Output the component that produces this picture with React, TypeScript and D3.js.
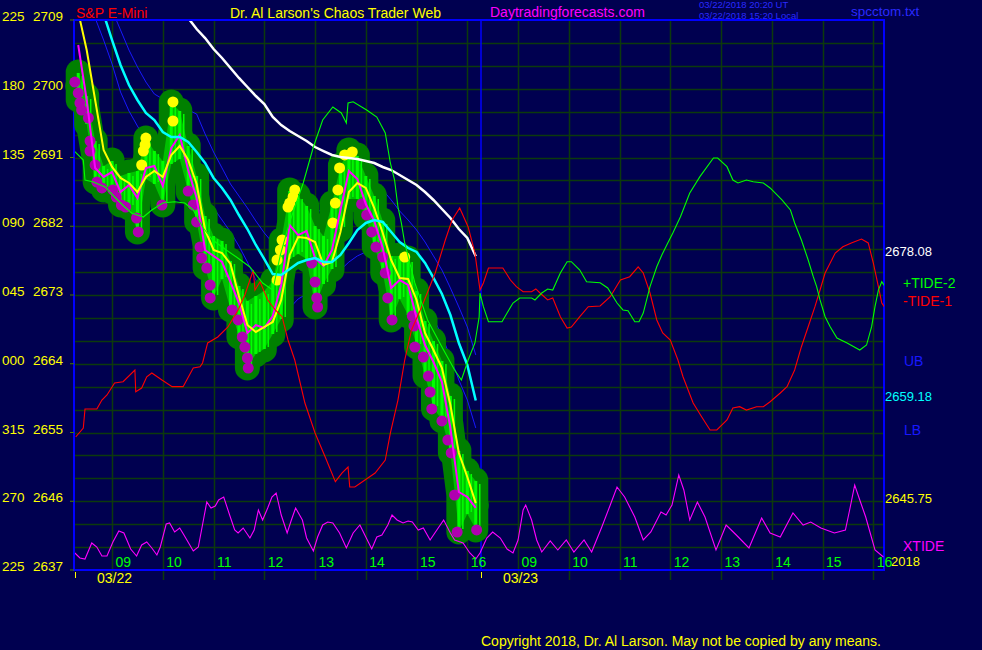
import React from "react";
import * as d3 from "d3";

const WIDTH = 982;
const HEIGHT = 650;
const FONT = "'Liberation Sans', Arial, Helvetica, sans-serif";

// ---- axis labels ----
const priceTicks = [2709, 2700, 2691, 2682, 2673, 2664, 2655, 2646, 2637];
const angleLabels = ["225", "180", "135", "090", "045", "000", "315", "270", "225"];
const hourLabels = ["09", "10", "11", "12", "13", "14", "15", "16"];
const dayLabels = ["03/22", "03/23"];

// ---- 10-minute price bars, minutes since 08:15 on 03/22 ----
const barTimes = [5, 15, 25, 35, 45, 55, 65, 75, 85, 95, 105, 115, 125, 135, 145, 155, 165, 175, 185, 195, 205, 215, 225, 235, 245, 255, 265, 275, 285, 295, 305, 315, 325, 335, 345, 355, 365, 375, 385, 395, 405, 415, 425, 435, 445, 455, 465, 475];
const barHigh = [2702.19, 2699.18, 2693.29, 2690.02, 2690.67, 2688.71, 2689.1, 2689.36, 2693.55, 2691.98, 2690.67, 2698.27, 2697.22, 2692.64, 2688.71, 2683.47, 2680.85, 2680.2, 2677.58, 2674.31, 2672.35, 2673.0, 2673.65, 2674.96, 2680.2, 2686.75, 2686.09, 2684.78, 2682.16, 2680.85, 2685.04, 2690.02, 2691.98, 2691.33, 2688.71, 2686.09, 2682.82, 2678.24, 2678.24, 2677.84, 2673.65, 2669.73, 2667.11, 2664.49, 2659.91, 2652.71, 2650.09, 2648.78];
const barLow = [2698.53, 2695.25, 2687.79, 2686.75, 2686.48, 2684.78, 2684.39, 2681.25, 2688.05, 2687.4, 2684.78, 2690.02, 2690.67, 2686.48, 2682.56, 2676.53, 2672.61, 2674.96, 2671.04, 2667.5, 2663.44, 2665.15, 2665.8, 2667.76, 2669.73, 2677.58, 2678.24, 2677.58, 2671.43, 2674.31, 2676.27, 2681.51, 2685.44, 2685.44, 2683.08, 2679.28, 2675.88, 2669.73, 2672.35, 2670.25, 2666.19, 2662.39, 2658.08, 2656.51, 2652.32, 2641.97, 2644.2, 2642.24];

// ---- averages & bands on the bar times (null = not drawn) ----
const fastLine = [2705.73, 2698.53, 2689.63, 2688.45, 2689.1, 2686.48, 2687.4, 2685.7, 2689.63, 2689.89, 2687.27, 2692.24, 2693.95, 2689.36, 2685.7, 2678.89, 2678.11, 2677.32, 2674.7, 2671.95, 2668.03, 2669.07, 2668.68, 2670.25, 2674.31, 2682.16, 2680.85, 2681.38, 2677.84, 2676.8, 2678.89, 2684.13, 2689.23, 2688.19, 2684.91, 2682.69, 2679.15, 2673.92, 2674.96, 2674.31, 2669.99, 2666.45, 2664.23, 2661.61, 2655.59, 2647.21, 2646.56, 2645.12];
const yellowLine = [2710.05, 2705.07, 2698.53, 2691.98, 2689.76, 2688.32, 2687.66, 2686.48, 2688.45, 2689.23, 2688.45, 2691.33, 2692.51, 2690.67, 2687.53, 2681.51, 2678.89, 2678.5, 2677.06, 2672.87, 2669.07, 2668.16, 2668.81, 2669.47, 2672.35, 2678.24, 2680.59, 2680.46, 2679.94, 2676.93, 2677.32, 2681.25, 2686.48, 2687.66, 2687.01, 2684.39, 2681.12, 2677.58, 2675.23, 2675.1, 2672.35, 2668.03, 2665.8, 2663.44, 2658.6, 2652.32, 2649.17, 2645.75];
const cyanLine = [2720.78, 2716.85, 2713.19, 2709.79, 2706.38, 2703.11, 2700.49, 2698.53, 2696.83, 2695.91, 2694.34, 2693.68, 2693.68, 2693.03, 2691.72, 2690.28, 2688.32, 2687.01, 2685.44, 2683.47, 2681.64, 2679.55, 2677.71, 2675.75, 2675.62, 2676.4, 2677.19, 2677.58, 2677.84, 2677.32, 2677.32, 2678.24, 2679.81, 2681.51, 2682.43, 2682.82, 2682.56, 2681.25, 2679.94, 2679.15, 2678.63, 2677.19, 2675.23, 2673.13, 2670.38, 2666.72, 2663.84, 2659.18];
const whiteLine = [null, null, null, null, null, null, null, null, null, null, null, null, 2710.31, 2709.26, 2707.82, 2706.64, 2705.2, 2704.03, 2702.72, 2701.41, 2700.23, 2699.05, 2698.0, 2696.3, 2695.25, 2694.47, 2693.81, 2693.16, 2692.37, 2691.85, 2691.33, 2691.07, 2690.93, 2690.8, 2690.54, 2690.28, 2689.76, 2689.36, 2688.71, 2688.05, 2687.4, 2686.48, 2685.44, 2684.26, 2683.08, 2681.64, 2680.46, 2678.08];
const upperBand = [null, null, null, null, 2710.31, 2707.69, 2705.07, 2702.85, 2700.88, 2699.31, 2698.66, 2698.27, 2697.61, 2697.22, 2696.69, 2694.08, 2691.72, 2689.63, 2687.53, 2685.96, 2684.39, 2682.69, 2681.12, 2679.81, 2679.41, 2680.2, 2681.25, 2682.29, 2683.47, 2684.52, 2685.44, 2686.09, 2686.61, 2686.88, 2687.01, 2687.14, 2686.75, 2685.44, 2684.0, 2682.82, 2681.51, 2679.94, 2678.11, 2676.27, 2673.92, 2671.43, 2668.81, 2665.15];
const lowerBand = [null, 2712.27, 2709.26, 2706.38, 2703.24, 2699.57, 2697.09, 2695.12, 2693.29, 2691.98, 2690.67, 2689.76, 2689.36, 2688.71, 2687.4, 2685.7, 2684.39, 2682.82, 2681.25, 2679.41, 2677.32, 2674.96, 2673.0, 2671.56, 2671.04, 2671.3, 2672.48, 2673.13, 2673.65, 2674.57, 2675.49, 2676.27, 2677.32, 2678.11, 2678.63, 2678.89, 2678.63, 2677.58, 2676.27, 2674.96, 2673.65, 2671.95, 2669.99, 2667.63, 2664.88, 2661.87, 2659.25, 2655.59];

// ---- swing dots [minute, price] ----
const lowDots = [[1, 2700.88], [5, 2699.44], [7, 2698.13], [9, 2697.22], [17, 2696.17], [19, 2693.16], [19, 2691.85], [25, 2690.02], [27, 2687.79], [33, 2687.01], [46, 2686.75], [50, 2685.83], [56, 2684.78], [61, 2684.52], [74, 2683.08], [76, 2681.25], [104, 2684.78], [135, 2686.61], [141, 2684.78], [145, 2682.56], [149, 2679.28], [151, 2677.84], [157, 2676.53], [161, 2674.31], [161, 2672.61], [187, 2671.04], [194, 2669.73], [199, 2667.5], [202, 2666.19], [205, 2664.75], [206, 2663.44], [281, 2677.19], [285, 2674.7], [287, 2672.61], [288, 2671.43], [340, 2684.91], [346, 2683.47], [352, 2681.25], [357, 2679.28], [365, 2677.97], [368, 2675.88], [371, 2672.61], [376, 2669.73], [400, 2670.25], [402, 2668.94], [403, 2666.19], [413, 2664.88], [419, 2662.39], [421, 2660.3], [423, 2658.08], [435, 2656.51], [442, 2654.02], [446, 2652.32], [450, 2646.82], [453, 2641.97], [476, 2642.24]];
const highDots = [[80, 2690.02], [82, 2691.85], [84, 2692.64], [85, 2693.55], [117, 2698.27], [117, 2695.78], [240, 2674.96], [240, 2677.58], [244, 2678.89], [246, 2680.2], [253, 2684.52], [255, 2685.04], [259, 2685.83], [261, 2686.75], [306, 2682.43], [309, 2685.04], [312, 2686.75], [314, 2689.63], [320, 2691.33], [329, 2691.72], [391, 2677.97]];

// ---- tides [minute, price] ----
const tidePlus2 = [[1, 2691.76], [11, 2690.67], [13, 2688.05], [22, 2687.83], [37, 2687.14], [48, 2685.83], [60, 2684.52], [68, 2683.73], [82, 2683.21], [92, 2684.13], [105, 2685.04], [119, 2685.21], [131, 2685.04], [141, 2684.13], [152, 2681.9], [164, 2680.2], [180, 2678.89], [192, 2677.97], [208, 2676.67], [223, 2674.57], [235, 2673.65], [244, 2678.24], [255, 2682.56], [271, 2687.66], [283, 2692.37], [294, 2695.91], [306, 2697.61], [316, 2696.83], [322, 2695.52], [324, 2698.13], [330, 2698.3], [346, 2697.22], [358, 2696.3], [368, 2694.21], [374, 2690.28], [379, 2688.05], [383, 2684.52], [387, 2682.43], [391, 2679.81], [403, 2674.57], [418, 2669.73], [435, 2666.19], [450, 2663.18], [458, 2661.87], [466, 2664.49], [474, 2666.72], [479, 2670.12], [480, 2673.26], [484, 2671.47], [490, 2669.5], [506, 2669.5], [512, 2670.64], [519, 2671.95], [527, 2672.61], [541, 2672.61], [545, 2672.35], [553, 2673.26], [560, 2673.79], [566, 2673.65], [575, 2675.88], [583, 2677.36], [588, 2677.36], [598, 2676.27], [606, 2674.74], [622, 2674.61], [631, 2673.92], [642, 2671.95], [649, 2671.04], [655, 2670.95], [663, 2669.5], [668, 2669.5], [673, 2670.64], [681, 2674.09], [689, 2676.7], [695, 2678.24], [702, 2679.81], [708, 2681.12], [717, 2683.25], [728, 2686.35], [740, 2688.49], [756, 2690.93], [761, 2690.93], [772, 2689.8], [779, 2688.05], [785, 2687.66], [795, 2688.05], [803, 2687.83], [815, 2687.66], [823, 2687.01], [837, 2685.44], [847, 2684.13], [852, 2682.43], [860, 2680.2], [868, 2677.58], [874, 2675.4], [878, 2674.09], [882, 2672.35], [888, 2670.16], [894, 2668.85], [902, 2667.37], [914, 2666.72], [929, 2665.8], [937, 2666.45], [943, 2668.85], [947, 2671.47], [951, 2673.65], [955, 2674.74], [959, 2674.09]];
const tideMinus1 = [[2, 2654.41], [11, 2655.59], [13, 2658.08], [27, 2658.08], [33, 2659.25], [39, 2659.91], [48, 2661.48], [58, 2661.65], [72, 2663.18], [73, 2660.34], [80, 2660.82], [86, 2662.3], [92, 2662.79], [104, 2661.87], [116, 2661.0], [129, 2661.0], [141, 2663.44], [149, 2663.61], [152, 2664.1], [158, 2666.72], [170, 2667.5], [182, 2668.81], [194, 2671.04], [202, 2673.0], [212, 2676.27], [214, 2673.65], [220, 2674.74], [229, 2672.35], [238, 2671.04], [246, 2670.16], [253, 2667.11], [261, 2664.49], [273, 2658.86], [285, 2654.93], [297, 2651.79], [309, 2648.56], [317, 2649.7], [324, 2650.48], [326, 2647.87], [332, 2647.87], [344, 2648.78], [356, 2649.7], [368, 2651.4], [374, 2654.93], [383, 2659.25], [391, 2664.49], [399, 2668.42], [411, 2671.43], [427, 2675.88], [439, 2680.2], [447, 2682.82], [456, 2684.39], [466, 2681.9], [474, 2678.5], [480, 2673.65], [484, 2674.57], [490, 2676.53], [507, 2676.53], [516, 2674.96], [523, 2674.09], [531, 2673.43], [541, 2673.43], [546, 2673.79], [551, 2673.26], [560, 2672.35], [566, 2672.61], [575, 2670.16], [583, 2668.68], [588, 2668.81], [598, 2670.16], [608, 2671.47], [622, 2671.56], [634, 2672.78], [646, 2674.96], [657, 2675.4], [667, 2676.67], [673, 2675.88], [681, 2673.26], [689, 2669.73], [696, 2668.03], [705, 2667.11], [714, 2664.49], [720, 2662.3], [732, 2658.86], [742, 2657.07], [752, 2655.33], [760, 2655.33], [772, 2656.64], [779, 2658.21], [787, 2658.38], [795, 2657.94], [807, 2658.38], [815, 2658.38], [823, 2659.03], [835, 2660.17], [843, 2661.0], [852, 2663.18], [860, 2666.23], [868, 2668.85], [876, 2671.47], [882, 2673.65], [888, 2675.88], [894, 2677.19], [900, 2678.5], [909, 2679.32], [919, 2679.81], [931, 2680.33], [939, 2679.81], [945, 2677.19], [951, 2674.09], [955, 2671.95], [959, 2671.3]];

// ---- XTIDE oscillator [minute, level 0..100] ----
const xtide = [[1, 7], [7, 2], [13, 1], [21, 17], [27, 13], [33, 4], [39, 4], [46, 18], [53, 29], [59, 27], [67, 11], [74, 4], [80, 15], [86, 18], [92, 12], [98, 5], [102, 13], [109, 36], [113, 37], [119, 28], [125, 32], [130, 25], [141, 9], [147, 13], [153, 40], [157, 58], [162, 52], [167, 54], [171, 60], [177, 63], [184, 45], [190, 30], [194, 27], [200, 32], [208, 22], [213, 30], [218, 50], [223, 40], [229, 52], [234, 63], [239, 67], [245, 45], [252, 27], [257, 40], [262, 52], [270, 40], [275, 22], [283, 9], [288, 23], [294, 35], [300, 38], [306, 37], [314, 27], [322, 12], [330, 27], [338, 35], [345, 23], [352, 11], [358, 23], [364, 25], [371, 35], [376, 45], [382, 40], [389, 37], [395, 39], [400, 38], [407, 30], [413, 32], [421, 20], [429, 30], [437, 40], [445, 27], [450, 20], [460, 17], [468, 7], [475, 1], [480, 7], [488, 22], [495, 28], [504, 22], [512, 11], [519, 7], [525, 20], [531, 50], [534, 55], [541, 40], [547, 20], [553, 8], [563, 19], [572, 10], [582, 20], [591, 8], [603, 20], [612, 8], [624, 33], [634, 55], [642, 73], [651, 63], [663, 43], [673, 20], [682, 28], [694, 48], [700, 45], [707, 55], [715, 85], [721, 70], [728, 40], [737, 58], [746, 43], [759, 10], [771, 35], [783, 25], [798, 12], [813, 42], [823, 27], [835, 23], [850, 47], [862, 35], [871, 38], [883, 32], [899, 27], [912, 30], [917, 50], [923, 75], [929, 60], [936, 43], [947, 10], [957, 3]];

export default function App() {
  const PL = 74, PR = 884, PT = 20, PB = 570;
  const x = d3.scaleLinear().domain([0, 960]).range([74, 886]);
  const y = d3.scaleLinear().domain([2637, 2709]).range([570, 20]);
  const yX = d3.scaleLinear().domain([0, 100]).range([560, 460]);

  const line = d3
    .line<any>()
    .defined((d: any) => d[1] !== null && d[1] !== undefined)
    .x((d: any) => x(d[0]))
    .y((d: any) => y(d[1]));
  const xline = d3
    .line<any>()
    .x((d: any) => x(d[0]))
    .y((d: any) => yX(d[1]));
  const core = d3
    .area<number>()
    .x((t: number) => x(t))
    .y0((_t: number, i: number) => y(barLow[i]) - 1)
    .y1((_t: number, i: number) => y(barHigh[i]) + 1);

  const onBars = (vals: (number | null)[]) => barTimes.map((t, i) => [t, vals[i]]);
  const mid = barTimes.map((t, i) => [t, (barHigh[i] + barLow[i]) / 2]);

  const hGrid = d3.range(2640, 2709, 3);
  const vGrid = d3.range(45, 960, 60);

  const lastOf = (arr: (number | null)[]) => arr[arr.length - 1] as number;

  const txt = (props: any, s: string) => (
    <text fontFamily={FONT} fontSize={14} {...props}>
      {s}
    </text>
  );

  return (
    <div style={{ position: "absolute", left: 0, top: 0 }}>
      <svg width={WIDTH} height={HEIGHT} style={{ display: "block", background: "#000050" }}>
        <defs>
          <clipPath id="plotClip">
            <rect x={PL + 1} y={PT + 1} width={PR - PL - 1} height={PB - PT - 1} />
          </clipPath>
        </defs>
        <rect x={0} y={0} width={WIDTH} height={HEIGHT} fill="#000050" />

        {/* grid */}
        {hGrid.map((p) => (
          <line key={"h" + p} x1={PL} x2={PR} y1={Math.round(y(p)) + 0.5} y2={Math.round(y(p)) + 0.5} stroke="#0c3a0c" strokeWidth={1.5} />
        ))}
        {vGrid.map((m) => (
          <line key={"v" + m} x1={Math.round(x(m)) + 0.5} x2={Math.round(x(m)) + 0.5} y1={PT} y2={580} stroke="#0c3a0c" strokeWidth={1.5} />
        ))}

        {/* border */}
        <rect x={PL} y={PT} width={PR - PL} height={PB - PT} fill="none" stroke="#0000ff" strokeWidth={2} />
        <line x1={x(480) + 1} x2={x(480) + 1} y1={PT} y2={PB} stroke="#0000ff" strokeWidth={1.5} />

        {/* left axis */}
        {priceTicks.map((p, i) => (
          <g key={"pt" + i}>
            <line x1={70} x2={74} y1={y(p)} y2={y(p)} stroke="#4a7a00" strokeWidth={1} />
            {txt({ x: 2, y: y(p) + 1, fill: "#ffff00", fontSize: 13.5 }, angleLabels[i])}
            {txt({ x: 33, y: y(p) + 1, fill: "#ffff00", fontSize: 13.5 }, String(p))}
          </g>
        ))}

        {/* bands */}
        <g clipPath="url(#plotClip)">
          <path d={line(onBars(upperBand)) || ""} fill="none" stroke="#1818ff" strokeWidth={1} />
          <path d={line(onBars(lowerBand)) || ""} fill="none" stroke="#1818ff" strokeWidth={1} />
        </g>

        {/* price halo */}
        <g>
          <path d={line(mid) || ""} fill="none" stroke="#008000" strokeWidth={26} strokeLinejoin="round" strokeLinecap="round" />
          {barTimes.map((t, i) => (
            <line key={"hb" + i} x1={x(t)} x2={x(t)} y1={y(barHigh[i])} y2={y(barLow[i])} stroke="#008000" strokeWidth={25} strokeLinecap="round" />
          ))}
          <path d={core(barTimes) || ""} fill="#00c000" />
          {barTimes.map((t, i) => (
            <line key={"bb" + i} x1={x(t)} x2={x(t)} y1={y(barHigh[i]) + 1} y2={y(barLow[i]) - 1} stroke="#00ff00" strokeWidth={3} />
          ))}
          {barTimes.map((t, i) => (
            <line key={"bc" + i} x1={x(t) + 4} x2={x(t) + 4} y1={y(barHigh[i]) + 4} y2={y(barLow[i]) - 3} stroke="#00ff00" strokeWidth={1.5} />
          ))}
          {lowDots.map((d, i) => (
            <circle key={"ld" + i} cx={x(d[0])} cy={y(d[1])} r={5.5} fill="#b000b0" />
          ))}
          {highDots.map((d, i) => (
            <circle key={"yd" + i} cx={x(d[0])} cy={y(d[1])} r={5.5} fill="#ffff00" />
          ))}
        </g>

        <g clipPath="url(#plotClip)">
          <path d={line(onBars(fastLine)) || ""} fill="none" stroke="#ff00ff" strokeWidth={2} />
          <path d={line(onBars(yellowLine)) || ""} fill="none" stroke="#ffff00" strokeWidth={2} />
          <path d={line(onBars(cyanLine)) || ""} fill="none" stroke="#00ffff" strokeWidth={2.5} />
          <path d={line(onBars(whiteLine)) || ""} fill="none" stroke="#ffffff" strokeWidth={2.5} />
          <path d={line(tideMinus1) || ""} fill="none" stroke="#ff0000" strokeWidth={1.1} />
          <path d={line(tidePlus2) || ""} fill="none" stroke="#00ff00" strokeWidth={1.1} />
          <path d={xline(xtide) || ""} fill="none" stroke="#ff00ff" strokeWidth={1.1} />
        </g>

        {/* hour labels */}
        {dayLabels.map((dl, d) => (
          <g key={"day" + d}>
            {hourLabels.map((h, j) => (
              <text key={h + d} x={x(d * 480 + 45 + 60 * j) + 3.5} y={567} fill="#00ff00" fontFamily={FONT} fontSize={14}>
                {h}
              </text>
            ))}
            <line x1={x(d * 480) + 1.5} x2={x(d * 480) + 1.5} y1={572} y2={578} stroke="#ffff00" strokeWidth={1} />
            {txt({ x: x(d * 480) + 23, y: 583, fill: "#ffff00" }, dl)}
          </g>
        ))}

        {/* right labels */}
        {txt({ x: 885, y: y(lastOf(whiteLine)), fill: "#ffffff", fontSize: 13 }, lastOf(whiteLine).toFixed(2))}
        {txt({ x: 885, y: y(lastOf(cyanLine)), fill: "#00ffff", fontSize: 13 }, lastOf(cyanLine).toFixed(2))}
        {txt({ x: 885, y: y(lastOf(yellowLine)), fill: "#ffff00", fontSize: 13 }, lastOf(yellowLine).toFixed(2))}
        {txt({ x: 903, y: 288, fill: "#00ff00" }, "+TIDE-2")}
        {txt({ x: 903, y: 306, fill: "#ff0000" }, "-TIDE-1")}
        {txt({ x: 904, y: 366, fill: "#1818ff" }, "UB")}
        {txt({ x: 904, y: 435, fill: "#1818ff" }, "LB")}
        {txt({ x: 903, y: 551, fill: "#ff00ff" }, "XTIDE")}
        {txt({ x: 891, y: 566, fill: "#ffff00", fontSize: 13 }, "2018")}

        {/* header */}
        {txt({ x: 76, y: 18, fill: "#ff0000" }, "S&P E-Mini")}
        {txt({ x: 230, y: 18, fill: "#ffff00" }, "Dr. Al Larson's Chaos Trader Web")}
        {txt({ x: 490, y: 17, fill: "#ff00ff" }, "Daytradingforecasts.com")}
        {txt({ x: 699, y: 7.5, fill: "#2a2aff", fontSize: 9.5 }, "03/22/2018 20:20 UT")}
        {txt({ x: 699, y: 18.5, fill: "#2a2aff", fontSize: 9.5 }, "03/22/2018 15:20 Local")}
        {txt({ x: 851, y: 16, fill: "#2a2aff", fontSize: 13.5 }, "spcctom.txt")}

        {txt({ x: 481, y: 646, fill: "#ffff00" }, "Copyright 2018, Dr. Al Larson. May not be copied by any means.")}
      </svg>
    </div>
  );
}
